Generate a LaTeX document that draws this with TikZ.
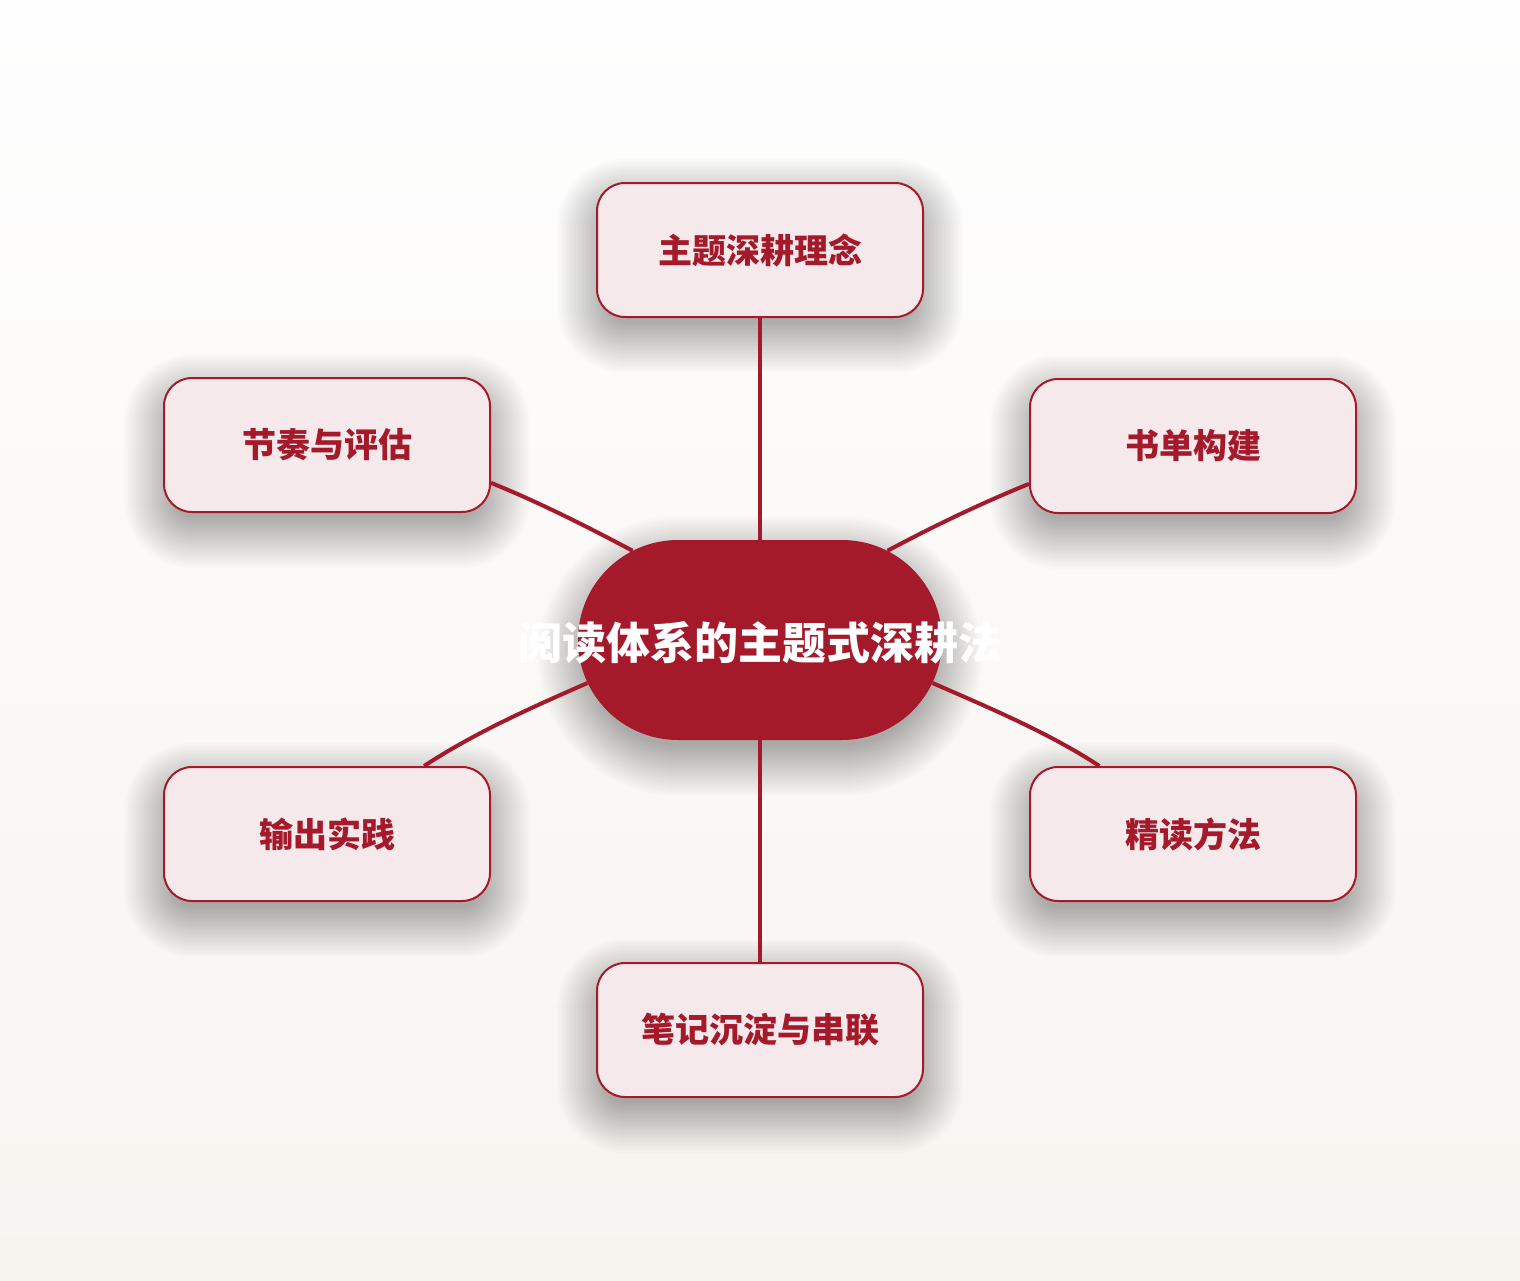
\documentclass[tikz,border=0pt]{standalone}
\usepackage{fontspec}
\newfontfamily\cjk{Noto Sans CJK SC}
\usetikzlibrary{shapes.misc}
\definecolor{deepred}{HTML}{A51A2A}
\definecolor{boxfill}{HTML}{F5E9EC}
\definecolor{bgtop}{HTML}{FEFEFE}
\definecolor{bgbot}{HTML}{F7F4F0}
% soft drop shadow: #1,#2 centre (screen px), #3,#4 half sizes, #5 corner radius
\newcommand\dropshade[5]{%
  \foreach \k in {0,...,25}{%
    \pgfmathsetmacro\ee{2*\k-10}%
    \pgfmathsetmacro\rr{#5+\ee}%
    \pgfmathsetmacro\xa{#1-#3-\ee}%
    \pgfmathsetmacro\xb{#1+#3+\ee}%
    \pgfmathsetmacro\ya{#2-#4-\ee+16}%
    \pgfmathsetmacro\yb{#2+#4+\ee+16}%
    \fill[black, opacity=0.0105, rounded corners=\rr pt] (\xa,\ya) rectangle (\xb,\yb);
  }}
\begin{document}
\begin{tikzpicture}[x=1pt,y=-1pt,
  leaf/.style={draw=deepred, line width=2pt, fill=boxfill, rounded corners=28pt,
    minimum width=326pt, minimum height=134pt, inner sep=0pt, text=deepred,
    font=\cjk\bfseries\fontsize{34}{40}\selectfont},
  hub/.style={rounded rectangle, fill=deepred, minimum width=364pt, minimum height=200pt, inner sep=0pt},
  hubtext/.style={text=white, font=\cjk\bfseries\fontsize{44}{50}\selectfont, inner sep=0pt},
  conn/.style={draw=deepred, line width=4pt}]
\fill[top color=bgtop, bottom color=bgbot] (0,0) rectangle (1520,1280);
% shadows
\dropshade{760}{640}{182}{100}{100}
\dropshade{760}{250}{163}{67}{28}
\dropshade{1193}{446}{163}{67}{28}
\dropshade{1193}{834}{163}{67}{28}
\dropshade{760}{1030}{163}{67}{28}
\dropshade{327}{834}{163}{67}{28}
\dropshade{327}{445}{163}{67}{28}
% nodes
\node[hub] (c) at (760,640) {};
\node[leaf] (t)  at (760,250)  {\raisebox{-2pt}{主题深耕理念}};
\node[leaf] (tr) at (1193,446) {\raisebox{-2pt}{书单构建}};
\node[leaf] (br) at (1193,834) {\raisebox{-2pt}{精读方法}};
\node[leaf] (b)  at (760,1030) {\raisebox{-2pt}{笔记沉淀与串联}};
\node[leaf] (bl) at (327,834)  {\raisebox{-2pt}{输出实践}};
\node[leaf] (tl) at (327,445)  {\raisebox{-2pt}{节奏与评估}};
% connectors
\draw[conn] (t.south) -- (c.north);
\draw[conn] (c.south) -- (b.north);
\draw[conn] (tl.-13.5) .. controls +(47,19) and +(-47,-25) .. (c.145.6);
\draw[conn] (bl.35.8) .. controls +(50,-33) and +(-55,24) .. (c.-166.2);
\draw[conn] (tr.193.5) .. controls +(-47,19) and +(47,-25) .. (c.35.1);
\draw[conn] (br.144.2) .. controls +(-50,-33) and +(55,24) .. (c.-14.4);
\node[hubtext] (ct) at ([yshift=-3pt]c.center) {阅读体系的主题式深耕法};
\end{tikzpicture}
\end{document}
